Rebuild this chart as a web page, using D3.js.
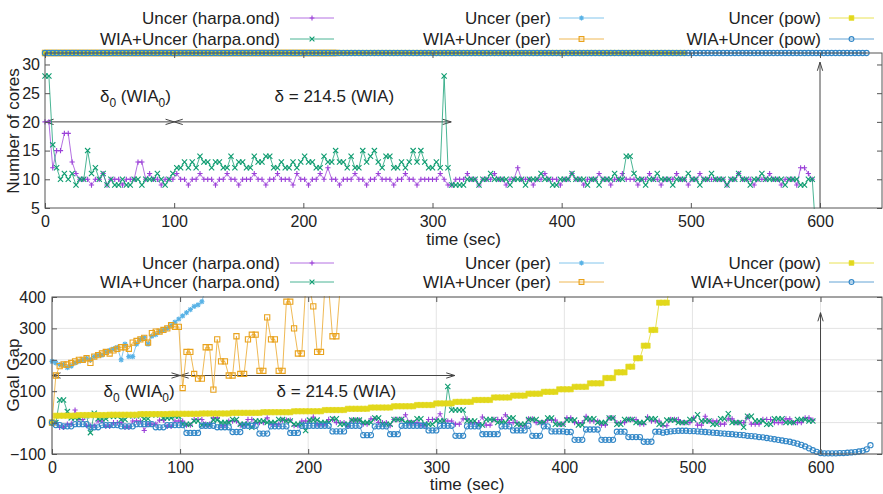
<!DOCTYPE html>
<html>
<head>
<meta charset="utf-8">
<script src="https://cdn.jsdelivr.net/npm/d3@7"></script>
<style>
  body { margin: 0; background: #fff; }
  text { font-family: "Liberation Sans", Arial, sans-serif; fill: #222; }
</style>
</head>
<body>
<svg id="chart" width="883" height="494"></svg>
<script>
// Sampling period of every trace (seconds between two samples)
const SAMPLE_SEC = 3;

// Series names (legend order)
const namesCores = ["Uncer (harpa.ond)", "WIA+Uncer (harpa.ond)", "Uncer (per)", "WIA+Uncer (per)", "Uncer (pow)", "WIA+Uncer (pow)"];
const namesGap   = ["Uncer (harpa.ond)", "WIA+Uncer (harpa.ond)", "Uncer (per)", "WIA+Uncer (per)", "Uncer (pow)", "WIA+Uncer(pow)"];

// Tick values
const timeTicks  = [0, 100, 200, 300, 400, 500, 600];
const coresTicks = [5, 10, 15, 20, 25, 30];
const gapTicks   = [-100, 0, 100, 200, 300, 400];

// Traces: a plain number is one sample, [value, n] is n consecutive samples
// ---- Number of cores ----
const coresUncerHarpa = [
  [20,2],12,[15,2],[18,2],13,11,[10,3],9,[10,2],11,9,[10,3],9,[10,3],[13,2],10,11,[10,2],9,[10,3],
  11,[10,2],9,[10,2],11,[10,3],9,[10,2],11,[10,2],9,[10,3],11,[10,2],9,[10,2],11,[10,3],9,11,[10,2],9,[10,2],11,10,12,[10,2],9,[10,3],11,[10,2],9,[10,2],11,[10,3],9,[10,2],11,[10,2],9,[10,3],[10,2],11,10,
  [9,2],[10,3],11,[10,2],9,[10,3],11,[10,2],9,[10,2],12,[10,3],9,[10,2],11,[10,3],9,[10,2],11,[10,2],9,[10,3],11,[10,2],9,[10,2],11,[10,3],9,[10,2],11,[10,2],9,[10,3],11,[10,2],9,[10,2],11,[10,3],
  [10,3],9,[10,2],11,[10,3],9,[10,3],11,[10,2],9,[10,3],
  9,[12,2],11,10
];
const coresWiaHarpa = [
  [28,2],16,12,10,11,10,11,9,[10,2],15,11,12,10,11,9,10,[9,2],10,[9,2],[10,2],9,[10,3],11,10,9,10,11,
  [12,2],13,12,13,12,14,[13,2],12,[13,2],[12,2],14,12,[13,2],[12,2],14,[13,2],[14,2],[12,2],13,[12,2],13,12,13,14,[13,2],[12,2],14,[13,2],15,[13,2],12,14,[12,2],15,13,14,15,13,12,[14,2],[12,2],13,12,13,15,13,15,13,[12,2],13,12,
  28,12,[9,4],
  [10,3],9,[10,2],11,[10,4],9,[10,3],9,[10,3],11,[10,2],[9,2],[10,3],11,[10,3],9,[10,2],9,[10,3],11,[10,2],[14,2],11,[10,2],9,[10,2],11,[10,3],9,[10,3],11,[10,2],9,[10,2],11,[10,3],9,[10,2],11,[10,2],9,[10,2],11,[10,4],[10,1],9,[10,3],[9,2],[10,2],
  0
];
const coresUncerPer = [[32,40]];
const coresWiaPer   = [[32,76]];
const coresUncerPow = [[32,166]];
const coresWiaPow   = [[32,213]];

// ---- Goal gap ----
const gapUncerHarpa = [
  [0,2],[-15,2],[-5,2],40,[10,2],[-10,3],[5,2],[-12,2],[0,3],[-15,2],[5,3],-25,[-5,3],[8,2],[-12,2],[5,3],
  [-8,2],[10,3],[-5,2],[15,2],[-10,2],[5,3],[-8,2],[10,2],[0,3],15,[-5,3],[8,3],[-10,2],[5,3],18,[-5,3],
  [10,2],[0,3],-12,[8,3],[-5,2],[12,2],[0,3],-10,[10,3],25,[0,3],[-8,2],[10,3],28,[5,3],[-5,2],[12,2],[0,3],
  18,[-8,2],[10,3],25,[0,3],[-10,2],[12,2],[0,3],[8,3],[-5,2],[15,2],[0,3],20,[5,3],[-8,2],[15,2],[0,3],
  [10,3],[-5,2],18,[5,3],[-10,2],[10,3],[0,3],15,[-8,2],20,[5,3],[-5,2],[12,2],[0,3],18,[-5,3],[10,3],[0,3],
  [12,2],[0,3],[15,2],8
];
const gapWiaHarpa = [
  [0,2],[72,2],35,[15,3],[22,2],-32,30,[12,3],[20,3],[10,2],[22,4],[12,2],[25,3],[15,3],[20,2],
  [-5,3],[5,2],[-8,3],[8,2],[0,3],[10,2],[-5,3],-15,[5,3],[0,3],[10,2],[5,2],[-5,3],-25,[8,3],[0,3],[12,2],
  [-5,3],[8,3],[0,3],[15,2],[-5,3],[10,3],[0,3],[12,2],[-5,3],[5,3],115,[40,4],[5,3],[-8,2],[10,3],[0,3],
  [15,2],[-5,3],[10,3],[0,2],[15,2],[-5,3],[8,3],[-8,2],[12,3],[0,3],[15,2],[-5,2],[10,3],[0,3],[12,3],
  [-5,2],[8,3],[0,3],[10,2],25,[5,3],[-5,2],[12,2],28,[0,3],-15,[20,2],[5,3],[-5,2],[12,3],[0,3],[10,3],[5,2]
];
const gapUncerPer = [
  195,190,185,185,175,180,190,195,200,205,200,210,215,215,225,230,235,240,200,250,
  210,210,250,265,270,250,275,280,290,295,300,310,320,330,340,350,360,370,375,385,430
];
const gapWiaPer = [
  0,150,180,185,185,190,195,200,200,205,190,210,215,220,225,220,230,235,240,240,
  235,255,260,265,270,255,285,290,290,295,300,310,305,305,110,225,225,155,140,140,
  240,240,105,265,195,195,150,150,275,155,155,265,280,280,165,165,335,265,265,165,
  165,385,385,300,220,220,430,430,370,225,225,430,430,275,275,430
];
const gapUncerPow = [
  0,[22,6],[24,8],[25,8],[27,8],[28,8],[29,8],[31,8],[33,8],[36,8],[40,6],[44,6],[48,6],[52,6],[56,5],[61,5],
  [66,5],[72,5],[80,5],[86,4],[92,4],[98,4],[106,4],[114,4],[125,4],[142,3],[160,3],[178,2],[205,2],[245,2],
  [295,2],[382,3],450
];
const gapWiaPow = [
  0,[-8,2],[-12,3],[-5,4],[-15,3],[-8,5],[-12,4],[-5,5],[-15,3],[-8,5],[-33,4],[-10,4],[-15,4],[-30,3],
  [-10,4],[-35,3],[-12,5],[-33,3],[-10,8],[-28,4],[-10,4],[-40,3],[-12,4],[-37,3],[-10,7],[-25,3],[-10,4],
  [-42,3],[-12,4],[-37,5],[-12,3],[-25,4],-10,[-42,3],[-12,2],[-28,4],[-30,2],[-55,3],[-22,4],[-55,4],
  [-29,3],[-46,4],[-61,3],[-29,2],
  -32,-30,-28,-27,-26,-26,-26,-27,-27,-28,-29,-30,-31,-32,-33,-34,-35,-36,-37,-38,
  -39,-40,-42,-43,-44,-46,-47,-49,-51,-53,-55,-57,-59,-61,-64,-67,-71,-76,-82,-88,
  -93,-97,-98,-98,-98,-98,-97,-97,-96,-95,-94,-92,-90,-85,-72
];

// Styling per series (same order as the legend)
const colors = ["#9b40d8", "#0e9c70", "#58b2e6", "#e9a21c", "#e2d81c", "#3287c7"];
const shapes = ["plus", "cross", "star", "square", "fsquare", "circle"];

const svg = d3.select("#chart");

function expand(runs) {
  const vals = [];
  runs.forEach(r => {
    const [v, n] = Array.isArray(r) ? r : [r, 1];
    for (let k = 0; k < n; k++) vals.push(v);
  });
  return vals.map((v, i) => ({ t: i * SAMPLE_SEC, v }));
}

function markerPath(shape, s) {
  switch (shape) {
    case "plus":  return `M${-s},0H${s}M0,${-s}V${s}`;
    case "cross": return `M${-s},${-s}L${s},${s}M${-s},${s}L${s},${-s}`;
    case "star":  return `M${-s},0H${s}M0,${-s}V${s}M${-s*0.75},${-s*0.75}L${s*0.75},${s*0.75}M${-s*0.75},${s*0.75}L${s*0.75},${-s*0.75}`;
    case "square":
    case "fsquare": return `M${-s},${-s}H${s}V${s}H${-s}Z`;
    case "circle": return `M${s},0A${s},${s} 0 1,1 ${-s},0A${s},${s} 0 1,1 ${s},0Z`;
  }
}

function drawMarker(g, shape, color, x, y, s) {
  const filled = shape === "fsquare";
  g.append("path")
    .attr("transform", `translate(${x},${y})`)
    .attr("d", markerPath(shape, s))
    .attr("fill", filled ? color : "none")
    .attr("stroke", color)
    .attr("stroke-width", shape === "fsquare" ? 0.6 : 1.1);
}

function arrowHead(g, x1, y1, x2, y2) {
  // open V head at (x2,y2) pointing away from (x1,y1)
  const a = Math.atan2(y2 - y1, x2 - x1), L = 9, w = 0.3;
  const p1 = [x2 - L * Math.cos(a - w), y2 - L * Math.sin(a - w)];
  const p2 = [x2 - L * Math.cos(a + w), y2 - L * Math.sin(a + w)];
  g.append("path")
    .attr("d", `M${p1[0]},${p1[1]}L${x2},${y2}L${p2[0]},${p2[1]}`)
    .attr("fill", "none").attr("stroke", "#444").attr("stroke-width", 1);
}

function arrow(g, x1, y1, x2, y2, both) {
  g.append("line").attr("x1", x1).attr("y1", y1).attr("x2", x2).attr("y2", y2)
    .attr("stroke", "#444").attr("stroke-width", 1);
  arrowHead(g, x1, y1, x2, y2);
  if (both) arrowHead(g, x2, y2, x1, y1);
}

function deltaLabel(g, x, y, withSub) {
  const t = g.append("text").attr("x", x).attr("y", y).attr("text-anchor", "middle")
    .attr("font-size", 17);
  if (withSub) {
    t.append("tspan").text("δ");
    t.append("tspan").attr("dy", 5).attr("font-size", 12).text("0");
    t.append("tspan").attr("dy", -5).text(" (WIA");
    t.append("tspan").attr("dy", 5).attr("font-size", 12).text("0");
    t.append("tspan").attr("dy", -5).text(")");
  } else {
    t.text("δ = 214.5 (WIA)");
  }
}

function legend(names, rowY) {
  const textRight = [280, 551, 821];
  const lineX = [[290, 334], [559, 604], [829, 874]];
  const g = svg.append("g");
  names.forEach((name, i) => {
    const c = Math.floor(i / 2), r = i % 2;
    const y = rowY[r];
    g.append("text").attr("x", textRight[c]).attr("y", y).attr("dy", "0.35em")
      .attr("text-anchor", "end").attr("font-size", 17).text(name);
    g.append("line").attr("x1", lineX[c][0]).attr("x2", lineX[c][1]).attr("y1", y).attr("y2", y)
      .attr("stroke", colors[i]).attr("stroke-width", 1).attr("stroke-opacity", 0.75);
    drawMarker(g, shapes[i], colors[i], (lineX[c][0] + lineX[c][1]) / 2, y, 2.4);
  });
}

function panel(opt) {
  const x = d3.scaleLinear().domain([0, 648]).range([opt.left, opt.right]);
  const y = d3.scaleLinear().domain(opt.yDomain).range([opt.bottom, opt.top]);
  const g = svg.append("g");
  const clipId = "clip-" + opt.id;
  svg.append("clipPath").attr("id", clipId).append("rect")
    .attr("x", opt.left).attr("y", opt.top - 1)
    .attr("width", opt.right - opt.left).attr("height", opt.bottom - opt.top + 2);

  if (opt.grid) {
    const gg = g.append("g").attr("stroke", "#e4e4e4").attr("stroke-width", 1);
    timeTicks.forEach(t => gg.append("line").attr("x1", x(t)).attr("x2", x(t))
      .attr("y1", opt.top).attr("y2", opt.bottom));
    opt.yTicks.forEach(v => gg.append("line").attr("y1", y(v)).attr("y2", y(v))
      .attr("x1", opt.left).attr("x2", opt.right));
  }

  // annotation arrows sit behind the traces
  const ann = g.append("g");
  arrow(ann, x(0), y(opt.arrowY), x(100), y(opt.arrowY), true);
  arrow(ann, x(100), y(opt.arrowY), x(314.5), y(opt.arrowY), true);
  arrow(ann, x(600), opt.bottom, x(600), y(opt.upTip), false);

  const lineGen = d3.line().x(d => x(d.t)).y(d => y(d.v));
  const [ymin, ymax] = opt.yDomain;
  opt.series.forEach((runs, i) => {
    const data = expand(runs);
    g.append("path").datum(data)
      .attr("clip-path", `url(#${clipId})`)
      .attr("d", lineGen)
      .attr("fill", "none").attr("stroke", colors[i])
      .attr("stroke-width", 1).attr("stroke-opacity", 0.75);
    const mg = g.append("g");
    data.filter(d => d.v >= ymin && d.v <= ymax)
      .forEach(d => drawMarker(mg, shapes[i], colors[i], x(d.t), y(d.v), opt.ms));
  });

  // border
  g.append("rect").attr("x", opt.left).attr("y", opt.top)
    .attr("width", opt.right - opt.left).attr("height", opt.bottom - opt.top)
    .attr("fill", "none").attr("stroke", "#555").attr("stroke-width", 1);

  const axB = g.append("g").attr("transform", `translate(0,${opt.bottom})`)
    .call(d3.axisBottom(x).tickValues(timeTicks).tickSizeInner(-5).tickSizeOuter(0).tickPadding(8));
  const axT = g.append("g").attr("transform", `translate(0,${opt.top})`)
    .call(d3.axisTop(x).tickValues(timeTicks).tickSizeInner(-5).tickSizeOuter(0).tickFormat(""));
  const axL = g.append("g").attr("transform", `translate(${opt.left},0)`)
    .call(d3.axisLeft(y).tickValues(opt.yTicks).tickSizeInner(-5).tickSizeOuter(0).tickPadding(opt.yPad));
  const axR = g.append("g").attr("transform", `translate(${opt.right},0)`)
    .call(d3.axisRight(y).tickValues(opt.yTicks).tickSizeInner(-5).tickSizeOuter(0).tickFormat(""));
  [axB, axT, axL, axR].forEach(a => {
    a.select(".domain").remove();
    a.selectAll(".tick line").attr("stroke", "#555");
    a.selectAll(".tick text").attr("font-size", 16).attr("font-family", '"Liberation Sans", Arial, sans-serif').attr("fill", "#222");
  });

  deltaLabel(g, x(opt.lab0X), y(opt.labY), true);
  deltaLabel(g, x(opt.lab1X), y(opt.labY), false);

  g.append("text").attr("x", (opt.left + opt.right) / 2).attr("y", opt.xTitleY)
    .attr("text-anchor", "middle").attr("font-size", 17).text("time (sec)");
  g.append("text").attr("transform", `translate(${opt.yTitleX},${opt.yTitleY}) rotate(-90)`)
    .attr("text-anchor", "middle").attr("font-size", 17).text(opt.yTitle);
}

legend(namesCores, [18, 39]);
panel({
  id: "cores", left: 45, right: 882, top: 53, bottom: 208,
  yDomain: [5, 32], yTicks: coresTicks, yPad: 5, ms: 2.6,
  series: [coresUncerHarpa, coresWiaHarpa, coresUncerPer, coresWiaPer, coresUncerPow, coresWiaPow],
  arrowY: 20, upTip: 30.4, lab0X: 70, lab1X: 224, labY: 23.4,
  xTitleY: 245, yTitleX: 19, yTitleY: 131, yTitle: "Number of cores", grid: false
});

legend(namesGap, [263, 282]);
panel({
  id: "gap", left: 52, right: 882, top: 297, bottom: 454,
  yDomain: [-100, 400], yTicks: gapTicks, yPad: 6, ms: 2.6,
  series: [gapUncerHarpa, gapWiaHarpa, gapUncerPer, gapWiaPer, gapUncerPow, gapWiaPow],
  arrowY: 150, upTip: 350, lab0X: 68, lab1X: 222, labY: 80,
  xTitleY: 490, yTitleX: 19, yTitleY: 375, yTitle: "Goal Gap", grid: true
});
</script>
</body>
</html>
